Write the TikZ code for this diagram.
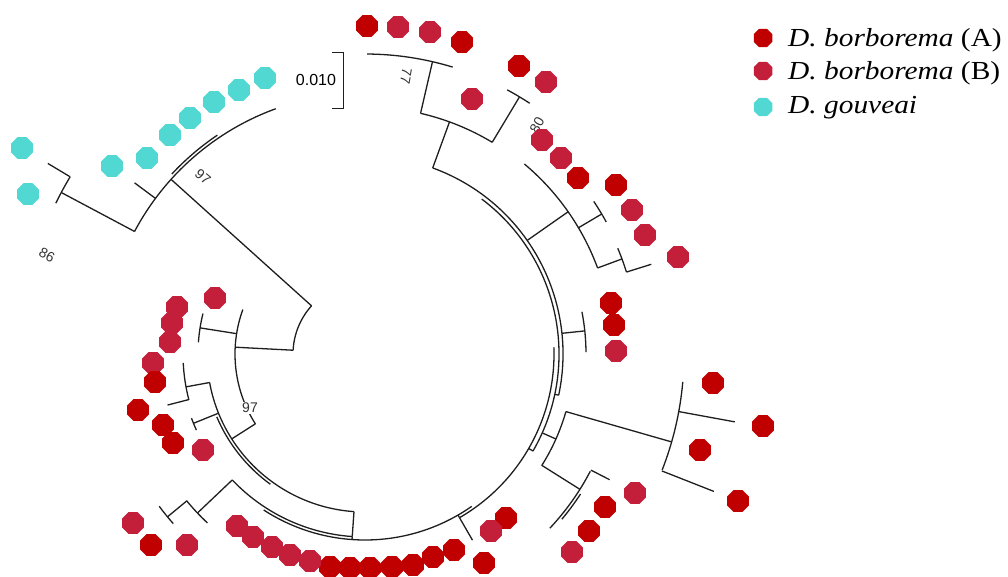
\documentclass[tikz,border=0pt]{standalone}
\usepackage{fontspec}
\setmainfont{Liberation Serif}
\newfontfamily\bootfont{Liberation Sans}
\usetikzlibrary{shapes.geometric}

\definecolor{borbA}{RGB}{192,0,0}
\definecolor{borbB}{RGB}{195,30,58}
\definecolor{gouv}{RGB}{82,216,210}
\definecolor{branchgray}{RGB}{30,30,30}

\begin{document}
\begin{tikzpicture}[x=1pt,y=1pt,
    branch/.style={draw=branchgray, line width=1.3pt},
    tip/.style={regular polygon, regular polygon sides=8, minimum size=23.5pt, inner sep=0pt},
    sampA/.style={tip, fill=borbA},
    sampB/.style={tip, fill=borbB},
    sampG/.style={tip, fill=gouv},
    boot/.style={font=\bootfont\fontsize{14}{14}\selectfont, text=black!80, inner sep=0pt}]

\useasboundingbox (0,0) rectangle (1008,576);
\coordinate (ctr) at (365,222);

\begin{scope}[shift={(ctr)}]
%% root
\draw[branch] (138:72) arc[start angle=138, end angle=177, radius=72pt];
\draw[branch] (138:72) -- (138:261);      %% to gouveai
\draw[branch] (177:72) -- (177:130);      %% to borborema

%% gouveai
\draw[branch] (110:261) arc[start angle=110, end angle=152, radius=261pt];
\draw[branch] (124:264) arc[start angle=124, end angle=137, radius=264pt];
\draw[branch] (143.4:261) -- (143.4:287);
\draw[branch] (152:261) -- (152:344);
\draw[branch] (149:344) arc[start angle=149, end angle=154, radius=344pt];
\draw[branch] (149:344) -- (149:370);

%% left group
\draw[branch] (160:130) arc[start angle=160, end angle=212.5, radius=130pt];
\draw[branch] (171:130) -- (171:167);
\draw[branch] (166:167) arc[start angle=166, end angle=176, radius=167pt];
\draw[branch] (212.5:130) -- (212.5:158);
\draw[branch] (190.4:158) arc[start angle=190.4, end angle=266, radius=158pt];
\draw[branch] (203:161) arc[start angle=203, end angle=234, radius=161pt];
\draw[branch] (190.4:158) -- (190.4:182);
\draw[branch] (182.8:182) arc[start angle=182.8, end angle=194.6, radius=182pt];
\draw[branch] (194.5:182) -- (194.5:204);
\draw[branch] (202:158) -- (202:185);
\draw[branch] (200.3:185) arc[start angle=200.3, end angle=204.3, radius=185pt];
\draw[branch] (266:158) -- (266:183);

%% spine
\draw[branch] (223.5:183) arc[start angle=223.5, end angle=266, radius=183pt];
\draw[branch] (237:186) arc[start angle=237, end angle=305, radius=186pt];
\draw[branch] (266:183) -- (266:186);
\draw[branch] (300:186) -- (300:189);
\draw[branch] (300:189) arc[start angle=300, end angle=362, radius=189pt];
\draw[branch] (330:189) -- (330:194);
\draw[branch] (330:194) arc[start angle=330, end angle=413, radius=194pt];
\draw[branch] (348:194) -- (348:198);
\draw[branch] (348:198) arc[start angle=348, end angle=430, radius=198pt];

%% bottom left
\draw[branch] (223.5:183) -- (223.5:231);
\draw[branch] (219.4:231) arc[start angle=219.4, end angle=227, radius=231pt];
\draw[branch] (219.5:231) -- (219.5:256);
\draw[branch] (216.5:256) arc[start angle=216.5, end angle=221.5, radius=256pt];

%% bottom
\draw[branch] (300:189) -- (300:215);

%% lower right
\draw[branch] (336:194) -- (336:209);
\draw[branch] (327.7:209) arc[start angle=327.7, end angle=344, radius=209pt];
\draw[branch] (344:209) -- (344:319);
\draw[branch] (338.7:319) arc[start angle=338.7, end angle=355, radius=319pt];
\draw[branch] (349.6:319) -- (349.6:376);
\draw[branch] (338.5:319) -- (338.5:375);
\draw[branch] (327.8:209) -- (327.8:254);
\draw[branch] (316.7:254) arc[start angle=316.7, end angle=332.5, radius=254pt];
\draw[branch] (320:257) arc[start angle=320, end angle=327, radius=257pt];
\draw[branch] (332.8:254) -- (332.8:275);

%% right, three tips
\draw[branch] (6:198) -- (6:221);
\draw[branch] (0.5:221) arc[start angle=0.5, end angle=11, radius=221pt];

%% upper right
\draw[branch] (35:198) -- (35:248);
\draw[branch] (20.3:248) arc[start angle=20.3, end angle=50, radius=248pt];
\draw[branch] (30.6:248) -- (30.6:275);
\draw[branch] (28.7:275) arc[start angle=28.7, end angle=33.7, radius=275pt];
\draw[branch] (20.3:248) -- (20.3:274);
\draw[branch] (17.4:274) arc[start angle=17.4, end angle=22.7, radius=274pt];
\draw[branch] (17.4:274) -- (17.4:300);

%% top
\draw[branch] (70:198) -- (70:247);
\draw[branch] (59:247) arc[start angle=59, end angle=77, radius=247pt];
\draw[branch] (77:247) -- (77:300);
\draw[branch] (73:300) arc[start angle=73, end angle=89.6, radius=300pt];
\draw[branch] (59:247) -- (59:300);
\draw[branch] (56.7:300) arc[start angle=56.7, end angle=61.7, radius=300pt];
\end{scope}

%% bootstrap values
\node[boot, rotate=-40] (bs97a) at (203,399) {97};
\node[boot, rotate=-28] (bs86) at (47,321) {86};
\node[boot, rotate=-100] (bs77) at (406,500) {77};
\node[boot, rotate=60] (bs80) at (537,451) {80};
\node[boot, fill=white, inner sep=1pt] (bs97b) at (250,168) {97};

%% scale bar
\draw[branch, line width=1pt] (332,523) -- (343,523) -- (343,467) -- (332,467);
\node[font=\bootfont\fontsize{16}{16}\selectfont] (scale) at (316,496) {0.010};

%% tips: gouveai
\node[sampG] (g1) at (265,498) {};
\node[sampG] (g2) at (239,486) {};
\node[sampG] (g3) at (214,474) {};
\node[sampG] (g4) at (190,458) {};
\node[sampG] (g5) at (170,441) {};
\node[sampG] (g6) at (147,418) {};
\node[sampG] (g7) at (112,410) {};
\node[sampG] (g8) at (22,428) {};
\node[sampG] (g9) at (28,382) {};

%% tips: top
\node[sampA] (t1) at (367,550) {};
\node[sampB] (t2) at (398,549) {};
\node[sampB] (t3) at (430,544) {};
\node[sampA] (t4) at (462,534) {};
\node[sampA] (t5) at (519,510) {};
\node[sampB] (t6) at (546,494) {};
\node[sampB] (t7) at (472,477) {};

%% tips: upper right
\node[sampB] (u1) at (542,436) {};
\node[sampB] (u2) at (561,418) {};
\node[sampA] (u3) at (578,398) {};
\node[sampA] (u4) at (616,391) {};
\node[sampB] (u5) at (632,366) {};
\node[sampB] (u6) at (645,341) {};
\node[sampB] (u7) at (678,319) {};

%% tips: right
\node[sampA] (v1) at (611,273) {};
\node[sampA] (v2) at (614,251) {};
\node[sampB] (v3) at (616,225) {};

%% tips: lower right
\node[sampA] (w1) at (713,193) {};
\node[sampA] (w2) at (763,150) {};
\node[sampA] (w3) at (700,126) {};
\node[sampA] (w4) at (738,75) {};
\node[sampB] (w5) at (635,83) {};
\node[sampA] (w6) at (605,69) {};
\node[sampA] (w7) at (589,45) {};
\node[sampB] (w8) at (572,24) {};

%% tips: bottom
\node[sampA] (s1) at (506,58) {};
\node[sampB] (s2) at (491,45) {};
\node[sampA] (s3) at (484,13) {};
\node[sampA] (s4) at (454,26) {};
\node[sampA] (s5) at (433,19) {};
\node[sampA] (s6) at (413,11) {};
\node[sampA] (s7) at (392,9) {};
\node[sampA] (s8) at (370,8) {};
\node[sampA] (s9) at (350,8) {};
\node[sampA] (s10) at (330,9) {};
\node[sampB] (s11) at (310,15) {};
\node[sampB] (s12) at (290,21) {};
\node[sampB] (s13) at (272,29) {};
\node[sampB] (s14) at (253,39) {};
\node[sampB] (s15) at (237,50) {};

%% tips: bottom left
\node[sampB] (x1) at (133,53) {};
\node[sampA] (x2) at (151,31) {};
\node[sampB] (x3) at (187,31) {};

%% tips: left
\node[sampB] (l1) at (215,278) {};
\node[sampB] (l2) at (177,269) {};
\node[sampB] (l3) at (172,253) {};
\node[sampB] (l4) at (170,234) {};
\node[sampB] (l5) at (153,213) {};
\node[sampA] (l6) at (155,194) {};
\node[sampA] (l7) at (138,166) {};
\node[sampA] (l8) at (163,151) {};
\node[sampA] (l9) at (173,133) {};
\node[sampB] (l10) at (203,126) {};

%% legend
\node[sampA, minimum size=20pt] (keyA) at (763,538) {};
\node[sampB, minimum size=20pt] (keyB) at (763,505) {};
\node[sampG, minimum size=20pt] (keyG) at (763,469) {};
\node[anchor=base west, inner sep=0pt, xscale=1.13, font=\fontsize{26}{26}\selectfont] (txtA) at (788,529) {\textit{D. borborema} (A)};
\node[anchor=base west, inner sep=0pt, xscale=1.13, font=\fontsize{26}{26}\selectfont] (txtB) at (788,496) {\textit{D. borborema} (B)};
\node[anchor=base west, inner sep=0pt, xscale=1.13, font=\fontsize{26}{26}\selectfont] (txtG) at (788,462) {\textit{D. gouveai}};
\end{tikzpicture}
\end{document}
